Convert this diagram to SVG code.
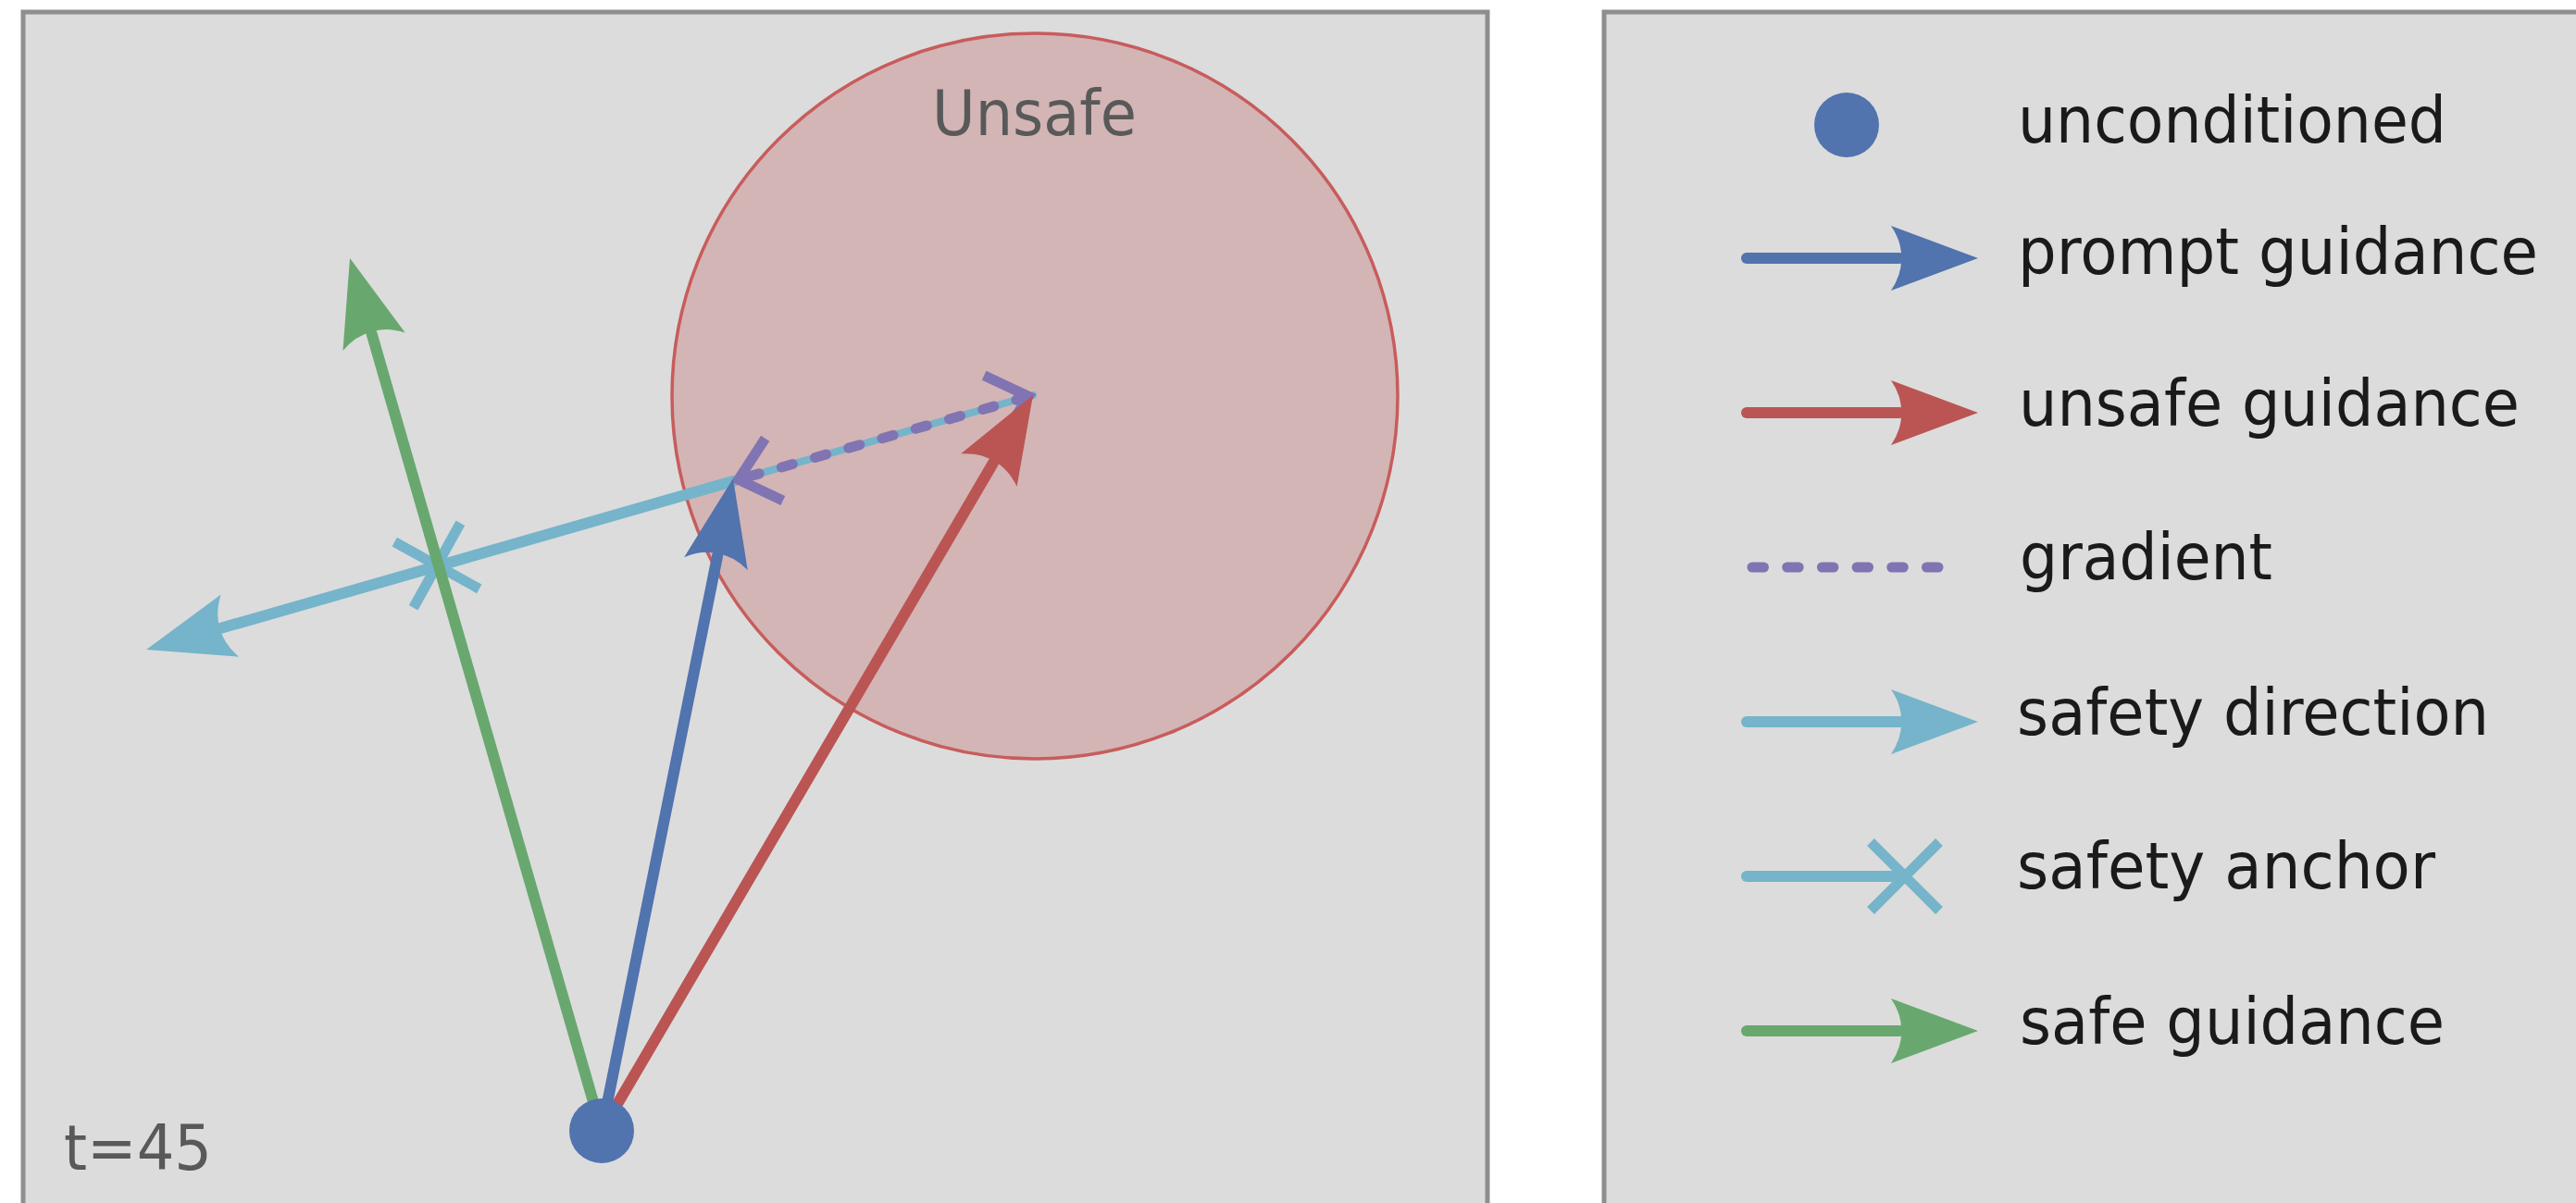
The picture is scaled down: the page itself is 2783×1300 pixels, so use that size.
<svg xmlns="http://www.w3.org/2000/svg" xmlns:xlink="http://www.w3.org/1999/xlink" width="2783" height="1300" viewBox="0 0 2783 1300">
  <style>
    .panel { fill: #dcdcdc; stroke: #8e8e8e; stroke-width: 5; }
    .ln { fill: none; stroke-width: 12; stroke-linecap: round; }
    .thin { fill: none; stroke-width: 8; stroke-linecap: round; }
    .dash { fill: none; stroke: #8174b3; stroke-width: 11; stroke-linecap: round; stroke-dasharray: 12.5 25.2; }
    .chev { fill: none; stroke: #8174b3; stroke-width: 11; stroke-linecap: butt; stroke-linejoin: miter; }
    .cross { fill: none; stroke: #75b4ca; stroke-width: 11; stroke-linecap: butt; }
    .blue { stroke: #5173ae; }
    .red { stroke: #ba5554; }
    .green { stroke: #68a86f; }
    .cyan { stroke: #75b4ca; }
    .panel-text { font-family: "DejaVu Sans", "Liberation Sans", sans-serif; font-size: 68px; fill: #595959; }
    .legend-text { font-family: "DejaVu Sans", "Liberation Sans", sans-serif; font-size: 70px; fill: #1a1a1a; }
  </style>
  <defs>
    <path id="head" d="M 0 0 L -94 -35 Q -82 -17 -83 0 Q -82 17 -94 35 Z"/>
    <polyline id="chevron" points="-40,-35 0,0 -40,35"/>
    <g id="xmark">
      <line x1="-37" y1="-37" x2="37" y2="37"/>
      <line x1="-37" y1="37" x2="37" y2="-37"/>
    </g>
  </defs>

  <rect width="2783" height="1300" fill="#ffffff"/>

  <!-- Left panel -->
  <g id="plot-panel">
    <rect class="panel" x="25" y="13" width="1582" height="1320"/>
    <g id="unsafe-region">
      <circle cx="1118" cy="428" r="392" fill="#d3b5b5" stroke="#c85c5c" stroke-width="3.5"/>
      <text class="panel-text" x="1007" y="146" textLength="221" lengthAdjust="spacingAndGlyphs">Unsafe</text>
    </g>
    <text id="timestep" class="panel-text" x="69" y="1264" textLength="160" lengthAdjust="spacingAndGlyphs">t=45</text>
  </g>

  <!-- Connectors -->
  <g id="connectors">
    <g id="safety-direction">
      <line class="thin cyan" x1="1116" y1="427" x2="793" y2="519.7"/>
      <line class="ln cyan" x1="793" y1="519.7" x2="239.7" y2="678.5"/>
      <use xlink:href="#head" href="#head" fill="#75b4ca" transform="translate(158 702) rotate(164)"/>
    </g>
    <g id="safety-anchor">
      <use xlink:href="#xmark" href="#xmark" class="cross" transform="translate(472 611) rotate(-16)"/>
    </g>
    <g id="gradient">
      <line class="dash" x1="1110" y1="428.7" x2="797" y2="518.5"/>
      <use xlink:href="#chevron" href="#chevron" class="chev" transform="translate(1111.2 428.4) rotate(-15.9)"/>
      <use xlink:href="#chevron" href="#chevron" class="chev" transform="translate(797.8 518.3) rotate(164.1)"/>
    </g>
    <g id="safe-guidance">
      <line class="ln green" x1="650" y1="1222" x2="401.6" y2="360.7"/>
      <use xlink:href="#head" href="#head" fill="#68a86f" transform="translate(378 279) rotate(-106.1)"/>
    </g>
    <g id="prompt-guidance">
      <line class="ln blue" x1="650" y1="1222" x2="775.2" y2="600.3"/>
      <use xlink:href="#head" href="#head" fill="#5173ae" transform="translate(792 517) rotate(-78.6)"/>
    </g>
    <g id="unsafe-guidance">
      <line class="ln red" x1="650" y1="1222" x2="1073" y2="500.3"/>
      <use xlink:href="#head" href="#head" fill="#ba5554" transform="translate(1116 427) rotate(-59.6)"/>
    </g>
  </g>

  <g id="unconditioned-point">
    <circle cx="650" cy="1222" r="35" fill="#5173ae"/>
  </g>

  <!-- Legend panel -->
  <g id="legend">
    <rect class="panel" x="1733" y="13" width="1100" height="1320"/>
    <g id="legend-unconditioned">
      <circle cx="1995" cy="135" r="35" fill="#5173ae"/>
      <text class="legend-text" x="2180" y="154" textLength="463" lengthAdjust="spacingAndGlyphs">unconditioned</text>
    </g>
    <g id="legend-prompt">
      <line class="ln blue" x1="1887" y1="279" x2="2052" y2="279"/>
      <use xlink:href="#head" href="#head" fill="#5173ae" transform="translate(2137 279)"/>
      <text class="legend-text" x="2180" y="296" textLength="562" lengthAdjust="spacingAndGlyphs">prompt guidance</text>
    </g>
    <g id="legend-unsafe">
      <line class="ln red" x1="1887" y1="446" x2="2052" y2="446"/>
      <use xlink:href="#head" href="#head" fill="#ba5554" transform="translate(2137 446)"/>
      <text class="legend-text" x="2181" y="460" textLength="541" lengthAdjust="spacingAndGlyphs">unsafe guidance</text>
    </g>
    <g id="legend-gradient">
      <line class="dash" x1="1893" y1="613" x2="2095" y2="613"/>
      <text class="legend-text" x="2182" y="626" textLength="273" lengthAdjust="spacingAndGlyphs">gradient</text>
    </g>
    <g id="legend-safety-direction">
      <line class="ln cyan" x1="1887" y1="780" x2="2052" y2="780"/>
      <use xlink:href="#head" href="#head" fill="#75b4ca" transform="translate(2137 780)"/>
      <text class="legend-text" x="2179" y="794" textLength="510" lengthAdjust="spacingAndGlyphs">safety direction</text>
    </g>
    <g id="legend-safety-anchor">
      <line class="ln cyan" x1="1887" y1="947" x2="2058" y2="947"/>
      <use xlink:href="#xmark" href="#xmark" class="cross" transform="translate(2058 947)"/>
      <text class="legend-text" x="2179" y="960" textLength="452" lengthAdjust="spacingAndGlyphs">safety anchor</text>
    </g>
    <g id="legend-safe">
      <line class="ln green" x1="1887" y1="1114" x2="2052" y2="1114"/>
      <use xlink:href="#head" href="#head" fill="#68a86f" transform="translate(2137 1114)"/>
      <text class="legend-text" x="2182" y="1128" textLength="459" lengthAdjust="spacingAndGlyphs">safe guidance</text>
    </g>
  </g>
</svg>
